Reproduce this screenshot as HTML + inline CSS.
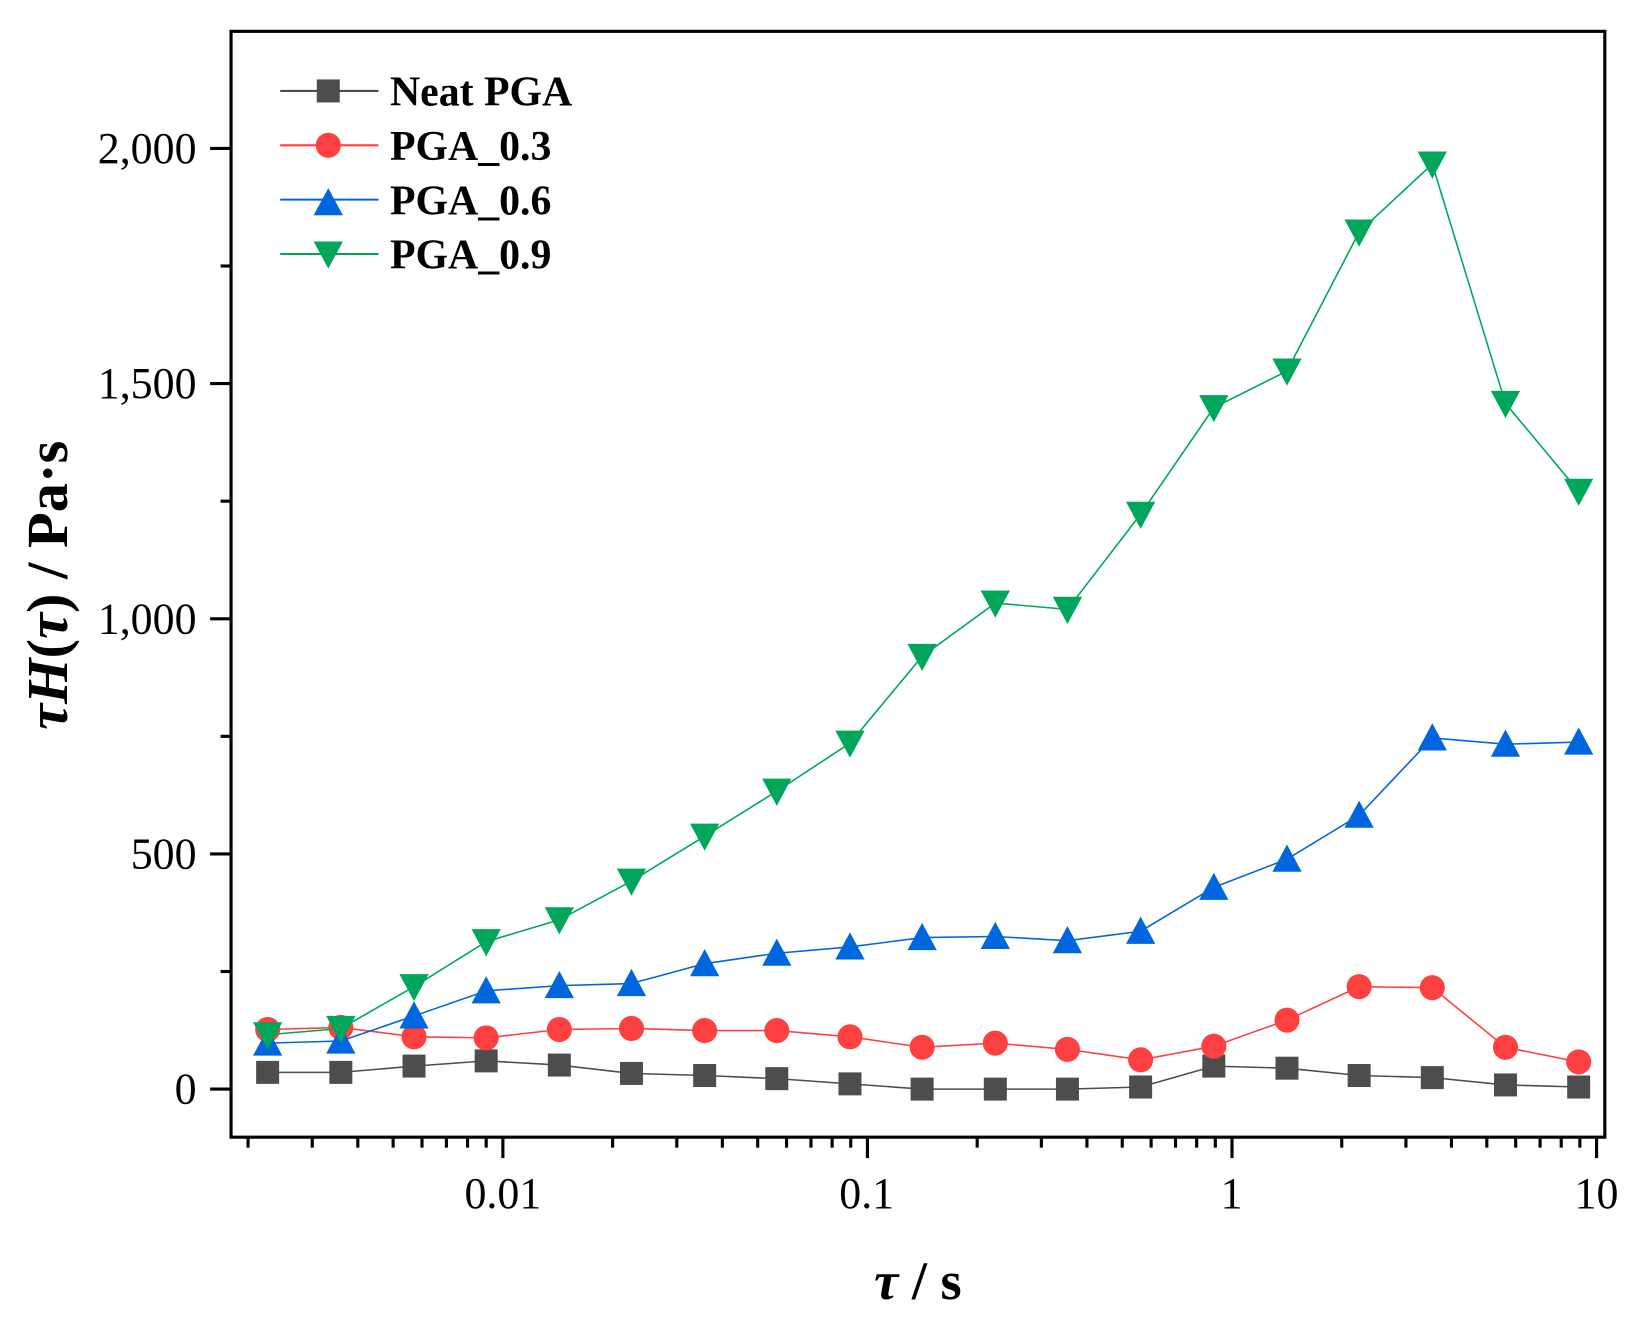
<!DOCTYPE html>
<html><head><style>html,body{margin:0;padding:0;background:#fff}svg{display:block}</style></head>
<body>
<svg width="1632" height="1318" viewBox="0 0 1561 1261" preserveAspectRatio="none" xmlns="http://www.w3.org/2000/svg" font-family="Liberation Serif, serif">
<rect width="1561" height="1261" fill="#fff"/>
<g id="ticks" stroke="#000" stroke-width="3"></g>
<rect x="221" y="30" width="1314" height="1058" fill="none" stroke="#000" stroke-width="3"/>
<g font-size="42" text-anchor="end">
<text x="188" y="1056">0</text><text x="188" y="831">500</text><text x="188" y="606">1,000</text><text x="188" y="381">1,500</text><text x="188" y="156">2,000</text>
</g>
<g font-size="42" text-anchor="middle">
<text x="481" y="1156">0.01</text><text x="829" y="1156">0.1</text><text x="1178" y="1156">1</text><text x="1527" y="1156">10</text>
</g>
<text x="878" y="1243" font-size="52" font-weight="bold" text-anchor="middle"><tspan font-style="italic">τ</tspan> / s</text>
<text transform="translate(64,560) rotate(-90)" font-size="56" font-weight="bold" text-anchor="middle"><tspan font-style="italic">τH</tspan>(<tspan font-style="italic">τ</tspan>) / Pa·s</text>
<g id="series"></g>
<g font-size="40" font-weight="bold">
<line x1="268" y1="87" x2="362" y2="87" stroke="#4d4d4d" stroke-width="2"/><rect x="303" y="76" width="22" height="22" fill="#4d4d4d"/><text x="373" y="101">Neat PGA</text>
<line x1="268" y1="139" x2="362" y2="139" stroke="#ff4040" stroke-width="2"/><circle cx="314" cy="139" r="12" fill="#ff4040"/><text x="373" y="153">PGA_0.3</text>
<line x1="268" y1="191" x2="362" y2="191" stroke="#0066dd" stroke-width="2"/><polygon points="314,180 300,206 328,206" fill="#0066dd"/><text x="373" y="205">PGA_0.6</text>
<line x1="268" y1="243" x2="362" y2="243" stroke="#00a65a" stroke-width="2"/><polygon points="300,231 328,231 314,257" fill="#00a65a"/><text x="373" y="257">PGA_0.9</text>
</g>
</svg>
<script>
const NS="http://www.w3.org/2000/svg";
function el(p,t,a){const e=document.createElementNS(NS,t);for(const k in a)e.setAttribute(k,a[k]);p.appendChild(e);return e;}
const tk=document.getElementById('ticks');
[1042,817,592,367,142].forEach(y=>el(tk,'line',{x1:201,x2:221,y1:y,y2:y}));
[929.5,704.5,479.5,254.5].forEach(y=>el(tk,'line',{x1:211,x2:221,y1:y,y2:y}));
const dec=348.7,x0=481;
for(let d=-3;d<=1;d++)for(let m=1;m<10;m++){const x=x0+(d+2)*dec+Math.log10(m)*dec;if(x<225||x>1532)continue;el(tk,'line',{x1:x,x2:x,y1:1088,y2:m==1?1108:1098});}
const xs=[256,326,396,465,535,604,674,743,813,882,952,1021,1091,1161,1231,1300,1370,1440,1510];
const S=[
["#4d4d4d","sq",[1026,1026,1020,1015,1019,1027,1029,1032,1037,1042,1042,1042,1040,1020,1022,1029,1031,1038,1040]],
["#ff4040","ci",[985,983,992,993,985,984,986,986,992,1002,998,1004,1014,1001,976,944,945,1002,1016]],
["#0066dd","up",[998,996,972,948,943,941,922,912,906,897,896,900,891,849,822,780,706,712,710]],
["#00a65a","dn",[990,984,944,901,880,843,800,757,711,628,577,583,492,390,355,222,157,386,470]]];
const g=document.getElementById('series');
S.forEach(([c,m,ys])=>{
el(g,'polyline',{points:xs.map((x,i)=>x+','+ys[i]).join(' '),fill:'none',stroke:c,'stroke-width':1.5});
xs.forEach((x,i)=>{const y=ys[i];
if(m=='sq')el(g,'rect',{x:x-11,y:y-11,width:22,height:22,fill:c});
else if(m=='ci')el(g,'circle',{cx:x,cy:y,r:12,fill:c});
else if(m=='up')el(g,'polygon',{points:`${x},${y-14} ${x-14},${y+12} ${x+14},${y+12}`,fill:c});
else el(g,'polygon',{points:`${x-14},${y-12} ${x+14},${y-12} ${x},${y+14}`,fill:c});});});
</script>
</body></html>
